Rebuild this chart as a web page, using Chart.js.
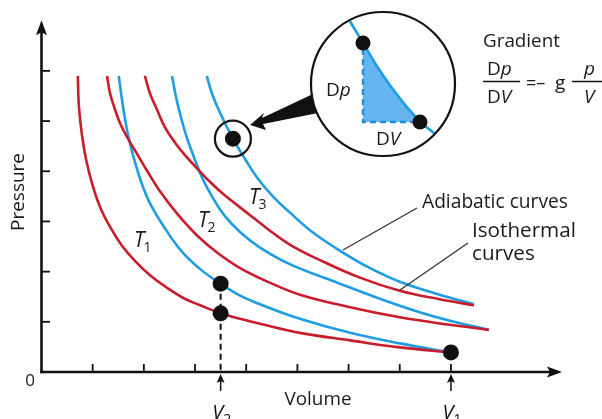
<!DOCTYPE html>
<html><head><meta charset="utf-8">
<script src="https://cdn.jsdelivr.net/npm/chart.js@4.4.1/dist/chart.umd.min.js"></script>
<style>html,body{margin:0;padding:0;background:#fff}#wrap{width:602px;height:419px;position:relative}</style>
</head><body><div id="wrap"><canvas id="c" width="602" height="419"></canvas></div>
<script>
// ---- data (volume / pressure in tick units) ----
const red1X = [0.71,0.73,0.79,0.87,0.99,1.14,1.34,1.57,1.83,2.12,2.45,2.80,3.10,3.50,3.88,4.27,5.05,6.03,7.00,8.00];
const red1Y = [5.90,5.31,4.73,4.24,3.75,3.30,2.89,2.52,2.21,1.93,1.68,1.46,1.33,1.17,1.06,0.96,0.78,0.63,0.49,0.39];
const red2X = [1.28,1.34,1.44,1.55,1.69,1.87,2.08,2.35,2.67,3.04,3.43,3.88,4.46,5.05,6.03,7.00,7.98,8.74];
const red2Y = [5.90,5.55,5.22,4.92,4.65,4.34,3.98,3.55,3.13,2.72,2.38,2.07,1.78,1.54,1.29,1.09,0.94,0.84];
const red3X = [2.02,2.12,2.26,2.41,2.61,2.82,3.02,3.29,3.58,4.07,4.42,4.85,5.44,6.22,7.00,7.78,8.45];
const red3Y = [5.90,5.55,5.22,4.88,4.57,4.30,4.08,3.79,3.52,3.13,2.85,2.54,2.23,1.88,1.62,1.45,1.33];
const blue1X = [1.51,1.59,1.69,1.81,1.96,2.12,2.37,2.71,3.10,3.50,3.88,4.27,5.05,6.03,7.00,8.00];
const blue1Y = [5.90,5.31,4.73,4.24,3.75,3.36,2.93,2.44,2.05,1.76,1.52,1.35,1.06,0.78,0.57,0.39];
const blue2X = [2.55,2.63,2.73,2.84,2.98,3.13,3.33,3.58,3.90,4.27,4.85,5.83,6.61,7.39,7.98,8.74];
const blue2Y = [5.90,5.47,5.06,4.67,4.28,3.89,3.50,3.11,2.77,2.48,2.15,1.76,1.46,1.19,1.02,0.84];
const blue3X = [3.23,3.33,3.49,3.74,3.98,4.23,4.52,4.85,5.29,5.89,6.42,7.00,7.78,8.45];
const blue3Y = [5.90,5.55,5.16,4.65,4.24,3.85,3.50,3.18,2.79,2.38,2.07,1.80,1.54,1.35];
const dotX = [3.50,3.50,8.00];
const dotY = [1.76,1.17,0.39];
const markX = [3.74];
const markY = [4.65];
const xTicks = [1,2,3,4,5,6,7,8];
const yTicks = [1,2,3,4,5,6];
const volumeMarks = [3.5, 8];
const volumeLabels = ['2','1'];
const tempLabels = ['1','2','3'];

const RED = '#c81e2b', BLUE = '#1f9de2', INK = '#111';
const FONT = '"Open Sans", "Noto Sans", sans-serif';
const zip = (xs, ys) => xs.map((x, i) => ({x, y: ys[i]}));
const curve = (xs, ys, c) => ({data: zip(xs, ys), showLine: true, borderColor: c, borderWidth: 2.6,
  pointRadius: 0, fill: false, tension: 0.4});

function fitFont(ctx, text, w, style) {
  ctx.font = style + ' 20px ' + FONT;
  return 20 * w / ctx.measureText(text).width;
}
function run(ctx, parts, x, y) {
  for (const p of parts) {
    ctx.font = p.f + 'px ' + FONT;
    ctx.fillText(p.t, x, y + (p.dy || 0));
    x += ctx.measureText(p.t).width + (p.sp || 0);
  }
}

const decor = {
  id: 'decor',
  afterDraw(chart) {
    const ctx = chart.ctx, xs = chart.scales.x, ys = chart.scales.y;
    const X = v => xs.getPixelForValue(v), Y = v => ys.getPixelForValue(v);
    const x0 = X(0), y0 = Y(0);
    ctx.save();
    ctx.strokeStyle = INK; ctx.fillStyle = INK; ctx.lineCap = 'butt';
    // axes
    ctx.lineWidth = 2.6;
    ctx.beginPath(); ctx.moveTo(x0, y0 + 1.3); ctx.lineTo(x0, chart.chartArea.top + 10); ctx.stroke();
    ctx.beginPath(); ctx.moveTo(x0 - 1.3, y0); ctx.lineTo(chart.chartArea.right - 10, y0); ctx.stroke();
    const top = chart.chartArea.top, right = chart.chartArea.right;
    ctx.beginPath(); ctx.moveTo(x0, top); ctx.lineTo(x0 + 5.5, top + 15); ctx.lineTo(x0, top + 12); ctx.lineTo(x0 - 5.5, top + 15); ctx.closePath(); ctx.fill();
    ctx.beginPath(); ctx.moveTo(right, y0); ctx.lineTo(right - 15, y0 - 5.5); ctx.lineTo(right - 12, y0); ctx.lineTo(right - 15, y0 + 5.5); ctx.closePath(); ctx.fill();
    // ticks
    ctx.lineWidth = 1.8;
    for (const t of yTicks) { ctx.beginPath(); ctx.moveTo(x0, Y(t)); ctx.lineTo(x0 + 8.5, Y(t)); ctx.stroke(); }
    for (const t of xTicks) { ctx.beginPath(); ctx.moveTo(X(t), y0); ctx.lineTo(X(t), y0 - 8); ctx.stroke(); }
    // volume arrows + labels
    volumeMarks.forEach((v, i) => {
      const px = X(v);
      ctx.lineWidth = 1.5;
      ctx.beginPath(); ctx.moveTo(px, y0 + 19); ctx.lineTo(px, y0 + 6); ctx.stroke();
      ctx.beginPath(); ctx.moveTo(px, y0 + 2); ctx.lineTo(px + 4, y0 + 11); ctx.lineTo(px, y0 + 9); ctx.lineTo(px - 4, y0 + 11); ctx.closePath(); ctx.fill();
      ctx.textBaseline = 'alphabetic';
      ctx.font = 'italic 20px ' + FONT;
      const w = ctx.measureText('V').width;
      run(ctx, [{t: 'V', f: 'italic 20'}, {t: volumeLabels[i], f: '14', dy: 5}], px - w / 2 - 3, y0 + 47);
    });
    // axis titles
    ctx.fillStyle = '#1a1a1a';
    ctx.textAlign = 'center'; ctx.textBaseline = 'middle';
    let s = fitFont(ctx, 'Volume', 67, '');
    ctx.font = s + 'px ' + FONT; ctx.fillText('Volume', 318, 400);
    ctx.font = '17px ' + FONT; ctx.fillText('0', 30, 381);
    s = fitFont(ctx, 'Pressure', 78, '');
    ctx.save(); ctx.translate(19, 192); ctx.rotate(-Math.PI / 2);
    ctx.font = s + 'px ' + FONT; ctx.fillText('Pressure', 0, 0); ctx.restore();
    // temperature labels
    ctx.textAlign = 'left'; ctx.textBaseline = 'alphabetic';
    const tPos = [[134, 247], [198, 227], [249, 204]];
    tPos.forEach((p, i) => run(ctx, [{t: 'T', f: 'italic 21', sp: -1}, {t: tempLabels[i], f: '14', dy: 5}], p[0], p[1]));
    // curve labels
    s = fitFont(ctx, 'Adiabatic curves', 146, '');
    ctx.font = s + 'px ' + FONT; ctx.fillText('Adiabatic curves', 422, 208);
    s = fitFont(ctx, 'Isothermal', 104, '');
    ctx.font = s + 'px ' + FONT; ctx.fillText('Isothermal', 472, 237); ctx.fillText('curves', 472, 260);
    ctx.strokeStyle = '#333'; ctx.lineWidth = 1.3;
    ctx.beginPath(); ctx.moveTo(417, 208); ctx.lineTo(343, 250); ctx.stroke();
    ctx.beginPath(); ctx.moveTo(468, 243); ctx.lineTo(400, 290); ctx.stroke();
    // gradient formula
    ctx.fillStyle = '#1a1a1a';
    s = fitFont(ctx, 'Gradient', 77, '');
    ctx.font = s + 'px ' + FONT; ctx.fillText('Gradient', 483, 47);
    run(ctx, [{t: 'D', f: '19'}, {t: 'p', f: 'italic 19'}], 487, 75);
    run(ctx, [{t: 'D', f: '19'}, {t: 'V', f: 'italic 19'}], 487, 103);
    ctx.strokeStyle = INK; ctx.lineWidth = 1.5;
    ctx.beginPath(); ctx.moveTo(483, 81.5); ctx.lineTo(520, 81.5); ctx.stroke();
    run(ctx, [{t: '=–', f: '18'}], 526, 89);
    run(ctx, [{t: 'g', f: '19'}], 555, 89);
    run(ctx, [{t: 'p', f: 'italic 19'}], 584, 75);
    run(ctx, [{t: 'V', f: 'italic 19'}], 584, 103);
    ctx.beginPath(); ctx.moveTo(572, 81.5); ctx.lineTo(602, 81.5); ctx.stroke();
    // callout wedge
    ctx.fillStyle = INK;
    ctx.beginPath();
    ctx.moveTo(250, 125); ctx.lineTo(264, 113); ctx.lineTo(262, 118); ctx.lineTo(313, 94);
    ctx.lineTo(318, 113); ctx.lineTo(263, 124); ctx.lineTo(266, 130); ctx.closePath(); ctx.fill();
    // inset magnifier
    const cx = 383, cy = 84, r = 72;
    ctx.beginPath(); ctx.arc(cx, cy, r, 0, Math.PI * 2); ctx.fillStyle = '#fff'; ctx.fill();
    ctx.save(); ctx.beginPath(); ctx.arc(cx, cy, r, 0, Math.PI * 2); ctx.clip();
    const A = [cx - 20, cy - 41], B = [cx + 37, cy + 38];
    ctx.fillStyle = '#66b5ee';
    ctx.beginPath(); ctx.moveTo(A[0], A[1]); ctx.quadraticCurveTo(cx + 5, cy + 4, B[0], B[1]);
    ctx.lineTo(A[0], B[1]); ctx.closePath(); ctx.fill();
    ctx.strokeStyle = '#1a8fe0'; ctx.lineWidth = 2.4; ctx.setLineDash([6, 4]);
    ctx.beginPath(); ctx.moveTo(A[0], A[1] + 6); ctx.lineTo(A[0], B[1]); ctx.lineTo(B[0] - 6, B[1]); ctx.stroke();
    ctx.setLineDash([]);
    ctx.strokeStyle = BLUE; ctx.lineWidth = 2.6;
    ctx.beginPath(); ctx.moveTo(cx - 35, cy - 66); ctx.lineTo(A[0], A[1]);
    ctx.quadraticCurveTo(cx + 5, cy + 4, B[0], B[1]); ctx.lineTo(cx + 56, cy + 53); ctx.stroke();
    ctx.fillStyle = INK;
    for (const p of [A, B]) { ctx.beginPath(); ctx.arc(p[0], p[1], 7.5, 0, Math.PI * 2); ctx.fill(); }
    ctx.restore();
    ctx.strokeStyle = INK; ctx.lineWidth = 2.2;
    ctx.beginPath(); ctx.arc(cx, cy, r, 0, Math.PI * 2); ctx.stroke();
    ctx.fillStyle = '#1a1a1a';
    run(ctx, [{t: 'D', f: '19'}, {t: 'p', f: 'italic 19'}], cx - 57, cy + 12);
    run(ctx, [{t: 'D', f: '19'}, {t: 'V', f: 'italic 19'}], cx - 7, cy + 61);
    ctx.restore();
  }
};

new Chart(document.getElementById('c'), {
  type: 'scatter',
  data: {datasets: [
    {data: zip(dotX, dotY), pointRadius: 8, pointBackgroundColor: INK, pointBorderWidth: 0, showLine: false},
    {data: zip(markX, markY), pointRadius: 8, pointBackgroundColor: INK, pointBorderWidth: 0, showLine: false},
    {data: zip(markX, markY), pointRadius: 18, pointBackgroundColor: 'rgba(0,0,0,0)', pointBorderColor: INK, pointBorderWidth: 2.2, showLine: false},
    {data: [{x: dotX[0], y: dotY[0]}, {x: dotX[0], y: 0}], showLine: true, borderColor: INK, borderWidth: 2, borderDash: [6, 4], pointRadius: 0},
    curve(red1X, red1Y, RED), curve(red2X, red2Y, RED), curve(red3X, red3Y, RED),
    curve(blue1X, blue1Y, BLUE), curve(blue2X, blue2Y, BLUE), curve(blue3X, blue3Y, BLUE)
  ]},
  options: {
    responsive: false, animation: false, devicePixelRatio: 1,
    layout: {padding: {left: 41.5, right: 40, top: 13, bottom: 47}},
    plugins: {legend: {display: false}, tooltip: {enabled: false}},
    scales: {
      x: {type: 'linear', min: 0, max: 10.17, display: false},
      y: {type: 'linear', min: 0, max: 7.01, display: false}
    }
  },
  plugins: [decor]
});
</script></body></html>
